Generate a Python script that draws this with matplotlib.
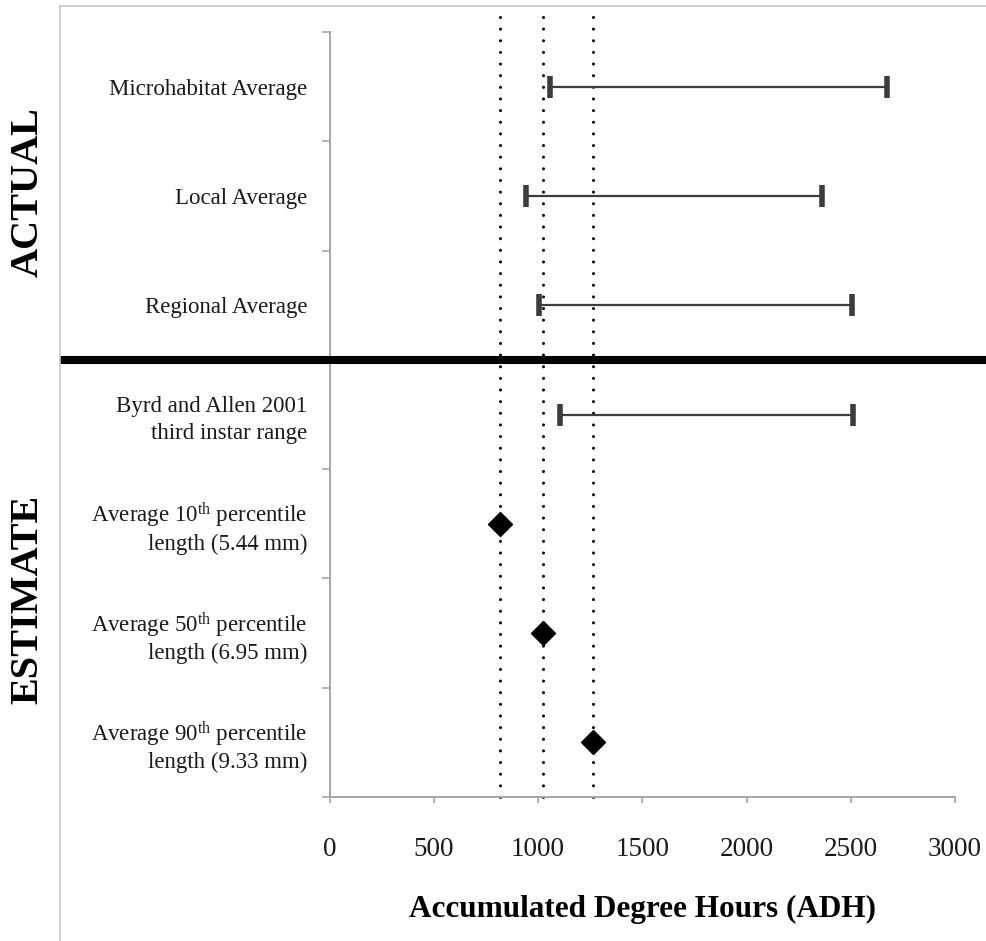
import matplotlib
matplotlib.use('Agg')
import matplotlib.pyplot as plt
from matplotlib.lines import Line2D
from matplotlib.transforms import blended_transform_factory

plt.rcParams['font.family'] = ['Liberation Serif', 'DejaVu Serif']
plt.rcParams['mathtext.fontset'] = 'custom'
plt.rcParams['mathtext.rm'] = 'Liberation Serif'
plt.rcParams['mathtext.it'] = 'Liberation Serif:italic'

# rows from top to bottom
row_labels = ['Microhabitat Average',
              'Local Average',
              'Regional Average',
              'Byrd and Allen 2001\nthird instar range',
              'Average 10$^{\\mathrm{th}}$ percentile\nlength (5.44 mm)',
              'Average 50$^{\\mathrm{th}}$ percentile\nlength (6.95 mm)',
              'Average 90$^{\\mathrm{th}}$ percentile\nlength (9.33 mm)']

# ranges (ADH)
range_names = ['Microhabitat Average', 'Local Average', 'Regional Average', 'Byrd and Allen 2001']
range_low = [1058, 944, 1005, 1104]
range_high = [2676, 2362, 2504, 2509]

# point estimates (ADH)
point_names = ['10th', '50th', '90th']
point_values = [820, 1022, 1262]

x_ticks = [0, 500, 1000, 1500, 2000, 2500, 3000]

n = len(row_labels)
ypos = [n - 1 - i for i in range(n)]  # 6 ... 0

fig = plt.figure(figsize=(9.87, 9.41), dpi=100)
ax = fig.add_axes([329.5 / 987, 144 / 941, 625.5 / 987, 765 / 941])

axis_grey = '#a6a6a6'

# dotted reference lines at the estimates
for v in point_values:
    ax.axvline(v, ymin=0, ymax=1.03, color='black', lw=2.2,
               linestyle=(0, (0.01, 3.8)), dash_capstyle='round', clip_on=False, zorder=1)

# range bars
rl_y = ypos[:len(range_low)]
mid = [(lo + hi) / 2 for lo, hi in zip(range_low, range_high)]
half = [(hi - lo) / 2 for lo, hi in zip(range_low, range_high)]
eb = ax.errorbar(mid, rl_y, xerr=half, fmt='none', ecolor='#3c3c3c', elinewidth=1.6,
                 capsize=8, capthick=4, zorder=3)
for cap in eb[1]:
    cap.set_color('black')

# point estimates
ax.plot(point_values, ypos[len(range_low):], linestyle='none', marker='D', ms=12.2,
        color='black', zorder=4)

ax.set_xlim(0, 3000)
ax.set_ylim(-0.5, n - 0.5)
ax.set_xticks(x_ticks)
ax.set_xticklabels([str(t) for t in x_ticks], fontsize=19.5, color='#1a1a1a')

ax.set_yticks([i - 0.5 for i in range(n + 1)])
ax.set_yticklabels([])
ax.set_yticks(ypos, minor=True)
ax.set_yticklabels(row_labels, minor=True, fontsize=16.5, color='#1a1a1a')
for lbl in ax.get_yticklabels(minor=True):
    if '\n' in lbl.get_text() and '$' not in lbl.get_text():
        lbl.set_linespacing(1.4)
ax.tick_params(axis='y', which='major', length=6, width=1.2, color=axis_grey, direction='out')
ax.tick_params(axis='y', which='minor', length=0, pad=16)
ax.tick_params(axis='x', which='major', length=4.5, width=1.2, color=axis_grey, direction='out', pad=24)

for s in ['top', 'right']:
    ax.spines[s].set_visible(False)
for s in ['left', 'bottom']:
    ax.spines[s].set_color(axis_grey)
    ax.spines[s].set_linewidth(1.4)

ax.set_xlabel('Accumulated Degree Hours (ADH)', fontsize=22.5, fontweight='bold', labelpad=24)

# thick divider between actual and estimate rows
tr = blended_transform_factory(fig.transFigure, ax.transData)
ax.plot([60 / 987, 1.0], [n - 1 - 3 + 0.5] * 2, transform=tr, color='black', lw=5.8,
        clip_on=False, solid_capstyle='butt', zorder=5)

# outer frame
fx = 60 / 987
fy = 1 - 6 / 941
fig.add_artist(Line2D([fx, fx], [0, fy], color='#c8c8c8', lw=1.2, transform=fig.transFigure))
fig.add_artist(Line2D([fx, 1.0], [fy, fy], color='#c8c8c8', lw=1.2, transform=fig.transFigure))

# section titles
fig.text(28 / 987, 1 - 192 / 941, 'ACTUAL', rotation=90, fontsize=29, fontweight='bold',
         ha='center', va='center')
fig.text(28 / 987, 1 - 599 / 941, 'ESTIMATE', rotation=90, fontsize=29, fontweight='bold',
         ha='center', va='center')

fig.savefig('out.png', dpi=100)
